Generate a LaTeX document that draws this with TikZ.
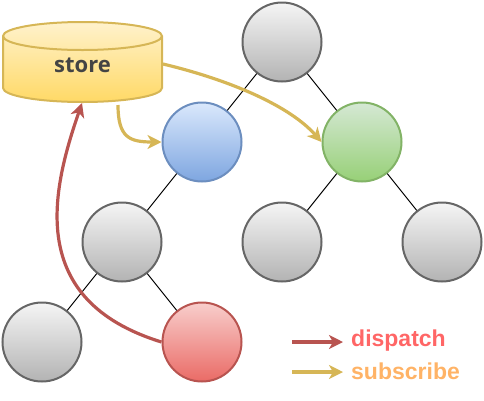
\documentclass[tikz,border=0pt]{standalone}
\usepackage{fontspec}
\setmainfont{Liberation Sans}
\newfontfamily\storefont{Open Sans}
\usetikzlibrary{arrows.meta}
\definecolor{grayS}{HTML}{666666}
\definecolor{grayT}{HTML}{F5F5F5}
\definecolor{grayB}{HTML}{B3B3B3}
\definecolor{blueS}{HTML}{6C8EBF}
\definecolor{blueT}{HTML}{DAE8FC}
\definecolor{blueB}{HTML}{7EA6E0}
\definecolor{greenS}{HTML}{82B366}
\definecolor{greenT}{HTML}{D5E8D4}
\definecolor{greenB}{HTML}{97D077}
\definecolor{redS}{HTML}{B85450}
\definecolor{redT}{HTML}{F8CECC}
\definecolor{redB}{HTML}{EA6B66}
\definecolor{yelS}{HTML}{D6B656}
\definecolor{yelT}{HTML}{FFF2CC}
\definecolor{yelB}{HTML}{FFD966}
\definecolor{dispC}{HTML}{FF6666}
\definecolor{subC}{HTML}{FFB366}
\definecolor{storeC}{HTML}{444444}
\tikzset{
  comp/.style={circle,minimum size=79pt,inner sep=0pt,line width=2pt},
  graycomp/.style={comp,draw=grayS,top color=grayT,bottom color=grayB},
  bluecomp/.style={comp,draw=blueS,top color=blueT,bottom color=blueB},
  greencomp/.style={comp,draw=greenS,top color=greenT,bottom color=greenB},
  redcomp/.style={comp,draw=redS,top color=redT,bottom color=redB},
  tree/.style={draw=black,line width=1pt},
  disparrow/.style={draw=redS,line width=3.2pt,-{Stealth[length=14pt,width=14pt,inset=4pt]}},
  subarrow/.style={draw=yelS,line width=3.2pt,-{Stealth[length=14pt,width=14pt,inset=4pt]}},
  legtext/.style={font=\fontsize{23}{26}\selectfont\bfseries,anchor=west,inner sep=0pt}
}
\begin{document}
\begin{tikzpicture}[x=1pt,y=1pt]
\useasboundingbox (0,0) rectangle (484,-400);
% tree nodes
\node[graycomp]  (top)   at (282,-42)  {};
\node[bluecomp]  (blue)  at (202,-142) {};
\node[greencomp] (green) at (362,-142) {};
\node[graycomp]  (mid)   at (122,-242) {};
\node[graycomp]  (gm)    at (282,-242) {};
\node[graycomp]  (gr)    at (442,-242) {};
\node[graycomp]  (bl)    at (42,-342)  {};
\node[redcomp]   (red)   at (202,-342) {};
% tree edges
\draw[tree] (top) -- (blue);
\draw[tree] (top) -- (green);
\draw[tree] (blue) -- (mid);
\draw[tree] (green) -- (gm);
\draw[tree] (green) -- (gr);
\draw[tree] (mid) -- (bl);
\draw[tree] (mid) -- (red);
% store cylinder
\shade[top color=yelT,bottom color=yelB]
  (3,-36) -- (3,-88) arc[start angle=180,end angle=360,x radius=79.5,y radius=14]
  -- (162,-36) arc[start angle=0,end angle=180,x radius=79.5,y radius=14] -- cycle;
\draw[draw=yelS,line width=2pt]
  (3,-36) -- (3,-88) arc[start angle=180,end angle=360,x radius=79.5,y radius=14]
  -- (162,-36) arc[start angle=0,end angle=180,x radius=79.5,y radius=14] -- cycle;
\draw[draw=yelS,line width=2pt]
  (3,-36) arc[start angle=180,end angle=360,x radius=79.5,y radius=14];
\node[inner sep=0pt,font=\storefont\fontsize{22}{24}\selectfont\bfseries,text=storeC] (store) at (82.5,-65) {store};
\coordinate (storeR) at (163,-64);
\coordinate (storeB) at (118,-105);
\coordinate (storeTip) at (82,-103);
% arrows
\draw[subarrow] (storeR) .. controls (230,-80) and (290,-106) .. (green.west);
\draw[subarrow] (storeB) .. controls (118,-138) and (130,-142) .. (blue.west);
\draw[disparrow] (red.west) .. controls (25,-300) and (52,-190) .. (storeTip);
% legend
\coordinate (l1a) at (292,-342);
\coordinate (l1b) at (343,-342);
\coordinate (l2a) at (292,-372);
\coordinate (l2b) at (343,-372);
\draw[disparrow] (l1a) -- (l1b);
\draw[subarrow] (l2a) -- (l2b);
\node[legtext,text=dispC] (disp) at (351,-341) {dispatch};
\node[legtext,text=subC] (subs) at (351,-371) {subscribe};
\end{tikzpicture}
\end{document}
